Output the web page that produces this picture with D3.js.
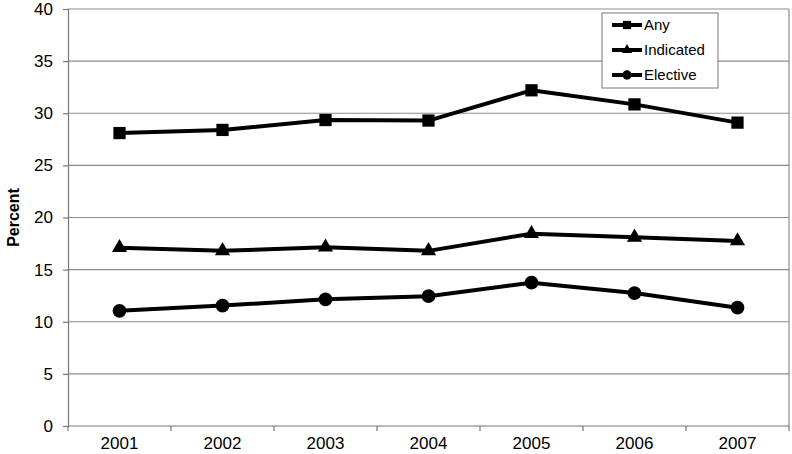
<!DOCTYPE html>
<html>
<head>
<meta charset="utf-8">
<script src="https://cdn.jsdelivr.net/npm/d3@7"></script>
<style>
  body { margin: 0; background: #fff; }
  text { font-family: "Liberation Sans", Arial, sans-serif; fill: #000; }
</style>
</head>
<body>
<svg id="chart" width="792" height="454"></svg>
<script>
  var years = ['2001', '2002', '2003', '2004', '2005', '2006', '2007'];
  var anyVals = [28.1, 28.4, 29.35, 29.3, 32.2, 30.85, 29.1];
  var indicatedVals = [17.1, 16.8, 17.15, 16.8, 18.45, 18.1, 17.75];
  var electiveVals = [11.05, 11.55, 12.15, 12.45, 13.75, 12.75, 11.35];
  var yTicks = [0, 5, 10, 15, 20, 25, 30, 35, 40];

  var margin = { top: 9, right: 3, bottom: 28, left: 68 };
  var width = 792 - margin.left - margin.right,
      height = 454 - margin.top - margin.bottom;

  var svg = d3.select('#chart');
  var g = svg.append('g')
    .attr('transform', 'translate(' + margin.left + ',' + margin.top + ')');

  var x = d3.scaleBand().domain(years).range([0, width]);
  var y = d3.scaleLinear().domain([0, 40]).range([height, 0]);

  // gridlines
  g.selectAll('.grid').data(yTicks.slice(1)).enter()
    .append('line')
    .attr('x1', 0).attr('x2', width)
    .attr('y1', function(d) { return y(d); })
    .attr('y2', function(d) { return y(d); })
    .attr('stroke', '#8c8c8c').attr('stroke-width', 1.2);

  // right border
  g.append('line')
    .attr('x1', width).attr('x2', width)
    .attr('y1', 0).attr('y2', height)
    .attr('stroke', '#8c8c8c').attr('stroke-width', 1.2);

  var yAxis = g.append('g')
    .call(d3.axisLeft(y).tickValues(yTicks).tickSize(5).tickPadding(10));
  yAxis.selectAll('path, line').attr('stroke', '#777').attr('stroke-width', 1.2);
  yAxis.selectAll('text').style('font-size', '17px');

  // x axis with ticks on band boundaries
  var xAxis = g.append('g').attr('transform', 'translate(0,' + height + ')');
  xAxis.append('line')
    .attr('x1', 0).attr('x2', width)
    .attr('stroke', '#777').attr('stroke-width', 1.2);
  var bounds = years.map(function(d) { return x(d); }).concat([width]);
  xAxis.selectAll('.xt').data(bounds).enter()
    .append('line')
    .attr('x1', function(d) { return d; }).attr('x2', function(d) { return d; })
    .attr('y1', 0).attr('y2', 5)
    .attr('stroke', '#777').attr('stroke-width', 1.2);
  xAxis.selectAll('.xl').data(years).enter()
    .append('text')
    .attr('x', function(d) { return x(d) + x.bandwidth() / 2; })
    .attr('y', 23)
    .attr('text-anchor', 'middle')
    .style('font-size', '17px')
    .text(function(d) { return d; });

  svg.append('text')
    .attr('transform', 'translate(19,' + (margin.top + height / 2) + ') rotate(-90)')
    .attr('text-anchor', 'middle')
    .style('font-size', '16px')
    .style('font-weight', 'bold')
    .text('Percent');

  var series = [
    { name: 'Any', values: anyVals, shape: d3.symbolSquare, size: 150 },
    { name: 'Indicated', values: indicatedVals, shape: d3.symbolTriangle, size: 100 },
    { name: 'Elective', values: electiveVals, shape: d3.symbolCircle, size: 150 }
  ];

  var line = d3.line()
    .x(function(d, i) { return x(years[i]) + x.bandwidth() / 2; })
    .y(function(d) { return y(d); });

  series.forEach(function(s) {
    g.append('path')
      .datum(s.values)
      .attr('d', line)
      .attr('fill', 'none')
      .attr('stroke', '#000')
      .attr('stroke-width', 4)
      .attr('stroke-linejoin', 'round');

    g.selectAll(null).data(s.values).enter()
      .append('path')
      .attr('d', d3.symbol().type(s.shape).size(s.size))
      .attr('transform', function(d, i) {
        return 'translate(' + (x(years[i]) + x.bandwidth() / 2) + ',' + y(d) + ')';
      })
      .attr('fill', '#000');
  });

  // legend
  var legend = svg.append('g').attr('transform', 'translate(602,13)');
  legend.append('rect')
    .attr('width', 116).attr('height', 75)
    .attr('fill', '#fff').attr('stroke', '#8c8c8c').attr('stroke-width', 1.2);
  series.forEach(function(s, i) {
    var ly = 12 + i * 25;
    legend.append('line')
      .attr('x1', 10).attr('x2', 40)
      .attr('y1', ly).attr('y2', ly)
      .attr('stroke', '#000').attr('stroke-width', 4);
    legend.append('path')
      .attr('d', d3.symbol().type(s.shape).size(s.size * 0.45))
      .attr('transform', 'translate(25,' + ly + ')')
      .attr('fill', '#000');
    legend.append('text')
      .attr('x', 42).attr('y', ly + 5)
      .style('font-size', '15px')
      .text(s.name);
  });
</script>
</body>
</html>
